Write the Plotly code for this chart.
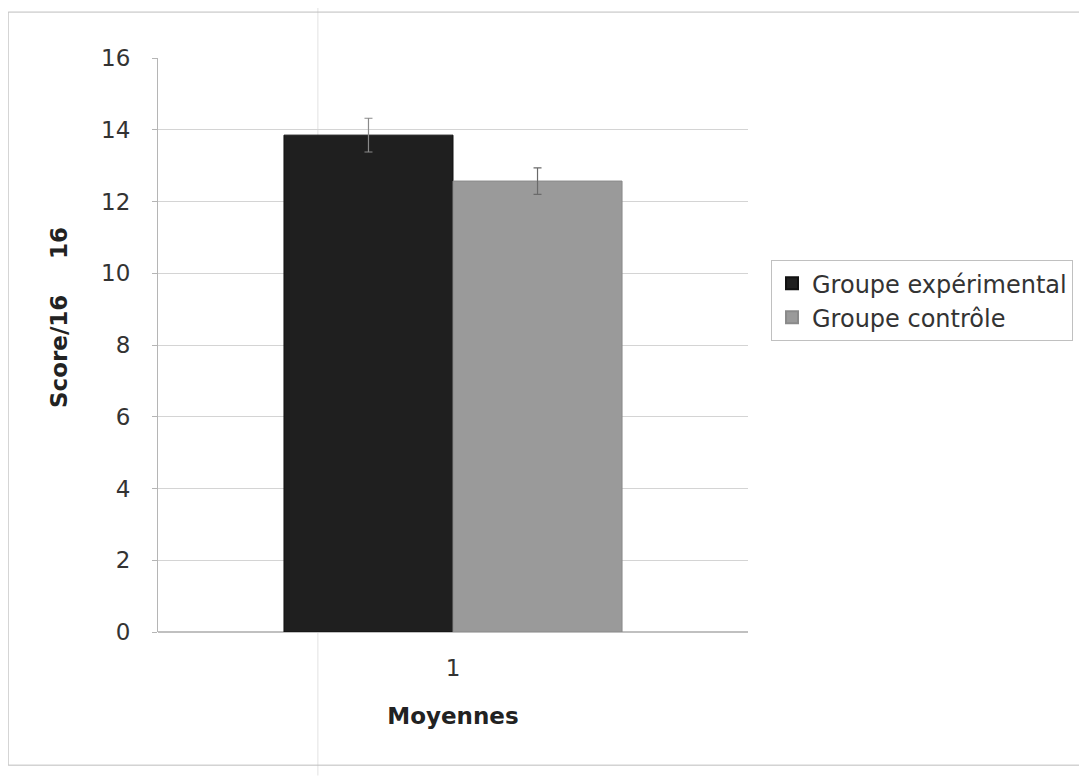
import plotly.graph_objects as go

categories = ["1"]
series_names = ["Groupe expérimental", "Groupe contrôle"]
means_exp = [13.85]
means_ctrl = [12.57]
err_exp = [0.47]
err_ctrl = [0.37]
y_ticks = [0, 2, 4, 6, 8, 10, 12, 14, 16]

font_family = "DejaVu Sans, Liberation Sans, Arial, sans-serif"

fig = go.Figure()
fig.add_trace(go.Bar(
    x=categories, y=means_exp, name=series_names[0],
    marker=dict(color="#1f1f1f", line=dict(color="#111111", width=1)),
    error_y=dict(type="data", array=err_exp, color="#8a8a8a", thickness=1.2, width=4),
))
fig.add_trace(go.Bar(
    x=categories, y=means_ctrl, name=series_names[1],
    marker=dict(color="#9a9a9a", line=dict(color="#8a8a8a", width=1)),
    error_y=dict(type="data", array=err_ctrl, color="#6a6a6a", thickness=1.2, width=4),
))

fig.update_layout(
    width=1079, height=768,
    margin=dict(l=150, r=339, t=50, b=144),
    paper_bgcolor="white", plot_bgcolor="white",
    barmode="group", bargap=0.427, bargroupgap=0,
    font=dict(family=font_family, size=23, color="#333333"),
    showlegend=True,
    legend=dict(
        x=1.039, y=0.648, xanchor="left", yanchor="top",
        bordercolor="#c0c0c0", borderwidth=1, bgcolor="white",
        font=dict(size=24, color="#333333"),
        itemsizing="constant", tracegroupgap=0, itemwidth=30,
    ),
    xaxis=dict(
        showgrid=False, showline=False, ticks="",
        ticklabelstandoff=20,
        title=dict(text="<b>Moyennes</b>", font=dict(size=23, color="#222222"), standoff=27),
        tickfont=dict(size=23),
    ),
    yaxis=dict(
        range=[0, 16], tickvals=y_ticks,
        showgrid=True, gridcolor="#d4d4d4", gridwidth=1,
        showline=True, linecolor="#b5b5b5", linewidth=1,
        ticks="outside", ticklen=5, tickcolor="#b5b5b5",
        ticklabelstandoff=17,
        zeroline=True, zerolinecolor="#c0c0c0",
        tickfont=dict(size=23),
    ),
    annotations=[
        dict(text="<b>Score/16</b>", xref="paper", yref="paper",
             x=(59 - 158) / 590, y=(632 - 352) / 574, xanchor="center", yanchor="middle",
             textangle=-90, showarrow=False, font=dict(size=23, color="#222222")),
        dict(text="<b>16</b>", xref="paper", yref="paper",
             x=(59 - 158) / 590, y=(632 - 243) / 574, xanchor="center", yanchor="middle",
             textangle=-90, showarrow=False, font=dict(size=23, color="#222222")),
    ],
    shapes=[
        dict(type="rect", xref="paper", yref="paper", x0=-0.254, x1=1.573, y0=-0.232, y1=1.08,
             line=dict(color="#bdbdbd", width=1)),
        dict(type="line", xref="paper", yref="paper", x0=0.271, x1=0.271, y0=-0.25, y1=1.1,
             line=dict(color="#e2e2e2", width=1), layer="below"),
    ],
)

fig.write_html("out.html")
